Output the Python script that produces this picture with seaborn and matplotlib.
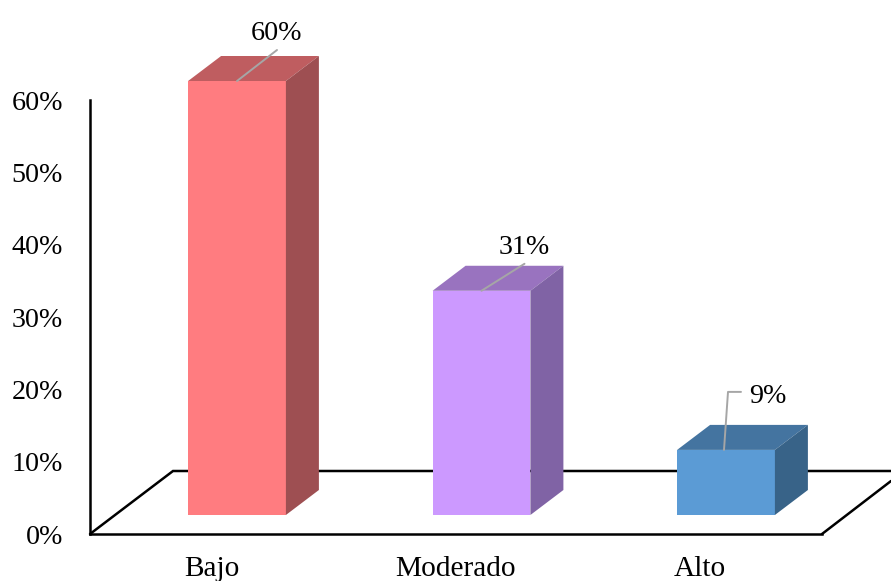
import matplotlib
matplotlib.use("Agg")
import matplotlib.pyplot as plt
from matplotlib.patches import Polygon
from matplotlib.transforms import ScaledTranslation
import seaborn as sns

categories = ["Bajo", "Moderado", "Alto"]
percentages = [60, 31, 9]
front_colors = ["#FF7C80", "#CC99FF", "#5B9BD5"]
top_colors = ["#BF5D60", "#9973BF", "#4474A0"]
side_colors = ["#9E4F52", "#8063A5", "#386388"]
y_ticks = [0, 10, 20, 30, 40, 50, 60]

W, H = 891, 581
PX_PER_PCT = 434 / 60
PX_PER_CAT = 244.5
DEPTH_X, DEPTH_Y = 33, 25

sns.set_theme(style="white")
plt.rcParams["font.family"] = ["Liberation Serif", "DejaVu Serif"]

fig = plt.figure(figsize=(W / 100, H / 100), dpi=100, facecolor="white")


def axes_rect(left, right, top, bottom):
    return [left / W, 1 - bottom / H, (right - left) / W, (bottom - top) / H]


# Axis frame and floor of the 3D box
frame = fig.add_axes(axes_rect(90, 822, 100, 534))
frame.set_xlim(-0.5, 2.5)
frame.set_ylim(0, 60)
frame.set_facecolor("none")
for name in ["top", "right"]:
    frame.spines[name].set_visible(False)
for name in ["left", "bottom"]:
    frame.spines[name].set_linewidth(1.8)
    frame.spines[name].set_color("black")
frame.set_xticks(range(3))
frame.set_xticklabels(categories, fontsize=21.2)
frame.set_yticks(y_ticks)
frame.set_yticklabels([f"{v}%" for v in y_ticks], fontsize=20.2)
frame.tick_params(axis="y", length=0, pad=19.5, colors="black")
frame.tick_params(axis="x", length=0, pad=16, colors="black")
for label in frame.get_yticklabels():
    label.set_transform(label.get_transform() + ScaledTranslation(0, -0.3 / 100, fig.dpi_scale_trans))

floor_tf = frame.transAxes
ax_w, ax_h = 732, 434
floor_left = [(0, 0), (83 / ax_w, 63 / ax_h), ((W - 90) / ax_w, 63 / ax_h)]
floor_right = [(1, 0), ((W - 90) / ax_w, 53 / ax_h)]
for pts in (floor_left, floor_right):
    frame.plot(*zip(*pts), transform=floor_tf, color="black", lw=1.8,
               clip_on=False, solid_joinstyle="miter")

# Bars stand on the raised front edge of the floor
bars = fig.add_axes(axes_rect(237 - PX_PER_CAT / 2, 237 + 2.5 * PX_PER_CAT, 515 - 70 * PX_PER_PCT, 515))
bars.set_facecolor("none")
sns.barplot(x=categories, y=percentages, hue=categories, palette=front_colors,
            saturation=1, width=0.4, legend=False, linewidth=0, ax=bars)
bars.set_xlim(-0.5, 2.5)
bars.set_ylim(0, 70)
bars.axis("off")

dx = DEPTH_X / PX_PER_CAT
dy = DEPTH_Y / PX_PER_PCT
half = 0.2

# Label offsets from the top-centre of each bar, in pixels
leaders = [
    [(0, 0), (40, 31)],
    [(0, 0), (43, 27)],
    [(-2, 0), (2, 58), (15, 58)],
]
label_offsets = [(40, 48), (43, 43), (42, 53)]

for i, value in enumerate(percentages):
    bars.add_patch(Polygon(
        [(i - half, value), (i + half, value),
         (i + half + dx, value + dy), (i - half + dx, value + dy)],
        closed=True, facecolor=top_colors[i], edgecolor="none", clip_on=False))
    bars.add_patch(Polygon(
        [(i + half, 0), (i + half + dx, dy),
         (i + half + dx, value + dy), (i + half, value)],
        closed=True, facecolor=side_colors[i], edgecolor="none", clip_on=False))
    xs = [i + p[0] / PX_PER_CAT for p in leaders[i]]
    ys = [value + p[1] / PX_PER_PCT for p in leaders[i]]
    bars.plot(xs, ys, color="#A6A6A6", lw=1.4, clip_on=False, zorder=5)
    ox, oy = label_offsets[i]
    bars.text(i + ox / PX_PER_CAT, value + oy / PX_PER_PCT, f"{value}%",
              ha="center", va="center", fontsize=20.2, color="black", zorder=6)

fig.savefig("out.png", dpi=100, facecolor="white")
